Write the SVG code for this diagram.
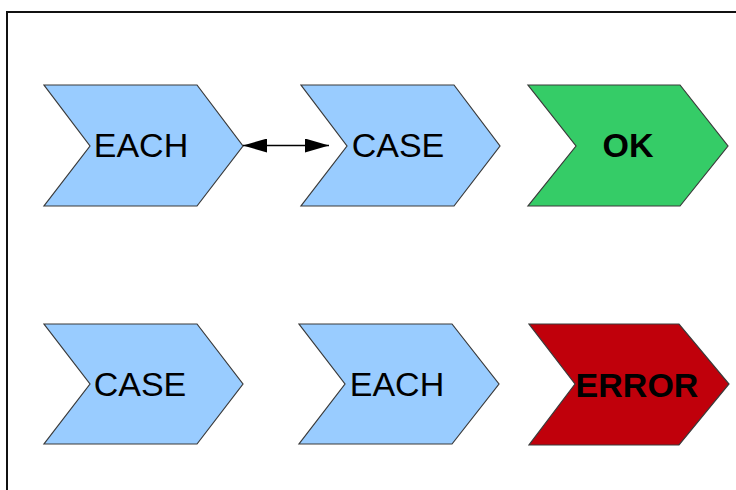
<svg xmlns="http://www.w3.org/2000/svg" width="736" height="490" viewBox="0 0 736 490">
<style>
.blue{fill:#99ccff;stroke:#3a3a3a;stroke-width:1.2}
.green{fill:#35cc67;stroke:#3a3a3a;stroke-width:1.2}
.red{fill:#c0000b;stroke:#3a3a3a;stroke-width:1.2}
.lbl{font-family:"Liberation Sans",Arial,sans-serif;font-size:34px;fill:#000;text-anchor:middle}
.b{font-weight:bold}
</style>
<defs>
<marker id="ah" viewBox="0 0 24 14" refX="24" refY="7" markerWidth="24" markerHeight="14" markerUnits="userSpaceOnUse" orient="auto-start-reverse">
<path d="M0,0 L24,7 L0,14 Z" fill="#000"/>
</marker>
</defs>
<rect x="0" y="0" width="736" height="490" fill="#fff"/>
<rect x="7" y="12" width="740" height="500" fill="none" stroke="#111" stroke-width="2"/>
<g id="n1"><polygon class="blue" points="44,85 197,85 243,146 197,206 44,206 90,146"/><text class="lbl" x="141" y="157">EACH</text></g>
<g id="n2"><polygon class="blue" points="301,85 454,85 500,146 454,206 301,206 347,146"/><text class="lbl" x="398" y="157">CASE</text></g>
<g id="n3"><polygon class="green" points="528,85 680,85 728,146 680,206 528,206 576,146"/><text class="lbl b" x="628" y="157">OK</text></g>
<g id="n4"><polygon class="blue" points="44,324 197,324 243,384 197,444 44,444 90,384"/><text class="lbl" x="140" y="396">CASE</text></g>
<g id="n5"><polygon class="blue" points="299,324 452,324 499,384 452,444 299,444 345,384"/><text class="lbl" x="397" y="396">EACH</text></g>
<g id="n6"><polygon class="red" points="529,324 679,324 729,384 679,445 529,445 575,384"/><text class="lbl b" x="637" y="397">ERROR</text></g>
<g id="connectors">
<line x1="243" y1="145.5" x2="329" y2="145.5" stroke="#000" stroke-width="1.5" marker-start="url(#ah)" marker-end="url(#ah)"/>
</g>
</svg>
